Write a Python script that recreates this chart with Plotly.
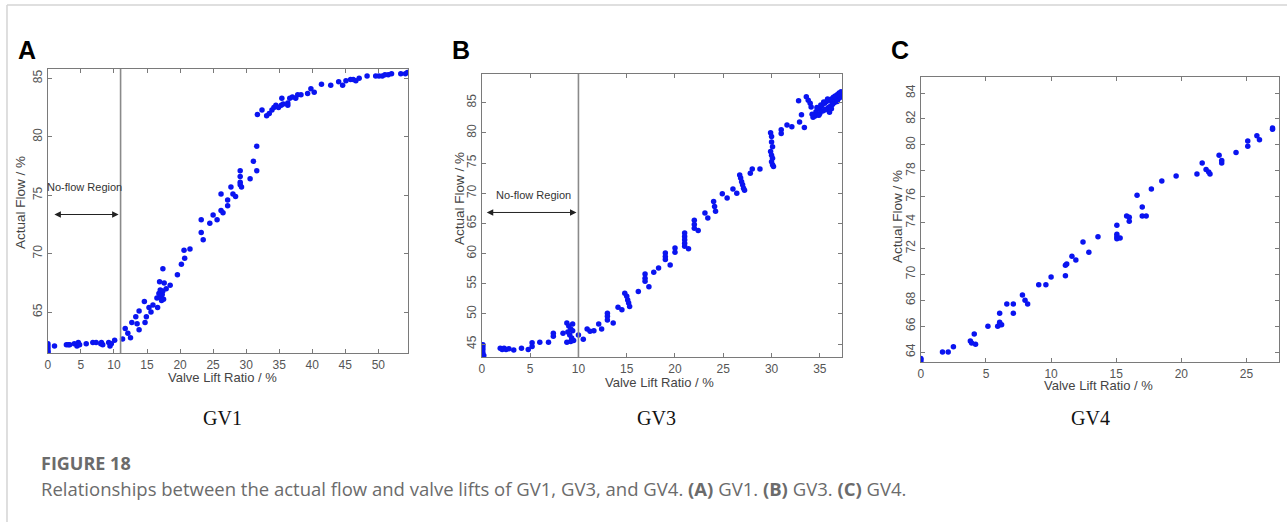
import plotly.graph_objects as go

W, H = 1287, 522

# ---------------- data ----------------
gv1_x = [0, 0, 0, 0, 0, 0, 1.0, 2.8, 3.1, 3.3, 4.0, 4.4, 4.6, 4.8, 5.8, 6.8, 7.3, 8.0, 8.3, 8.1,
         9.2, 9.4, 9.6, 10.1, 11.3, 11.7, 12.1, 12.5, 12.7, 13.3, 13.5, 13.8, 13.8, 14.6, 14.7,
         14.9, 15.3, 15.9, 15.6, 16.6, 16.5, 16.8, 17.0, 17.1, 17.2, 17.3, 17.4, 17.5, 16.9,
         17.4, 17.6, 17.9, 18.5, 19.6, 20.2, 20.6, 20.7, 21.5, 23.2, 23.2, 23.5, 24.5, 25.0,
         25.6, 26.2, 26.2, 26.5, 27.2, 27.2, 27.7, 28.0, 28.4, 29.1, 29.1, 29.1, 29.1, 29.3,
         30.6, 31.1, 31.6, 31.6, 31.7, 32.4, 33.1, 33.5, 33.9, 34.2, 34.5, 34.9, 35.3, 35.6,
         35.4, 36.3, 36.3, 36.6, 37.0, 37.5, 37.8, 38.3, 39.3, 39.8, 40.3, 41.4, 42.8, 44.0,
         44.6, 45.1, 45.8, 46.2, 46.6, 47.1, 48.3, 49.6, 50.1, 50.6, 51.0, 51.5, 52.0, 53.4,
         54.1, 54.4]
gv1_y = [61.5, 61.7, 61.9, 62.1, 62.3, 61.6, 62.1, 62.2, 62.2, 62.2, 62.3, 62.1, 62.4, 62.2, 62.3,
         62.4, 62.4, 62.3, 62.2, 62.4, 62.4, 62.1, 62.3, 62.6, 62.7, 63.6, 63.2, 62.8, 64.1, 64.6,
         64.0, 63.5, 65.1, 65.9, 64.1, 64.6, 65.4, 65.6, 65.0, 65.4, 66.2, 66.6, 66.9, 66.3, 66.0,
         66.5, 66.8, 66.1, 67.6, 68.7, 67.5, 67.0, 67.3, 68.2, 69.1, 70.3, 69.6, 70.4, 72.9, 71.8,
         71.2, 72.6, 73.3, 72.9, 75.1, 73.7, 73.5, 74.6, 74.1, 75.7, 75.1, 74.9, 77.1, 76.6, 76.1,
         75.9, 75.7, 76.4, 77.9, 79.2, 77.1, 81.9, 82.3, 81.8, 82.0, 82.3, 82.5, 82.7, 82.5, 82.7,
         82.8, 83.3, 82.9, 82.7, 83.3, 83.4, 83.3, 83.6, 83.6, 83.7, 84.1, 83.8, 84.5, 84.4, 84.7,
         84.4, 84.8, 84.9, 84.9, 84.8, 85.0, 85.2, 85.2, 85.2, 85.2, 85.3, 85.3, 85.4, 85.4, 85.4,
         85.5, 85.3]

gv3_x = [0.1, 0.1, 0.1, 0.1, 0.2, 1.9, 2.1, 2.3, 2.5, 2.8, 3.3, 4.1, 4.8, 5.2, 5.2, 6.0, 6.9,
         7.4, 7.4, 8.4, 8.8, 9.0, 9.2, 9.4, 8.9, 9.1, 9.3, 9.5, 8.8, 9.2, 9.4, 10.0, 10.5, 10.9,
         11.2, 11.6, 12.1, 12.4, 13.0, 13.0, 13.0, 13.6, 14.1, 14.5, 14.8, 15.0, 15.1, 15.2,
         15.3, 16.2, 16.9, 16.9, 16.9, 17.3, 17.8, 18.3, 19.0, 19.0, 19.0, 19.5, 20.0, 20.0,
         21.0, 21.0, 21.0, 21.0, 21.0, 21.4, 22.0, 22.0, 22.0, 22.4, 23.1, 23.4, 24.0, 24.1,
         24.2, 24.9, 25.4, 26.0, 26.4, 26.7, 26.8, 26.9, 27.0, 27.1, 27.2, 27.8, 28.0, 28.8,
         29.9, 30.0, 30.0, 30.1, 29.9, 30.0, 30.1, 30.0, 30.1, 30.2, 31.0, 31.0, 31.6, 32.1,
         32.8, 32.9, 33.1, 33.4, 33.6, 33.8, 34.0, 34.1, 34.3, 34.5, 34.6, 34.8, 35.0, 35.0,
         35.2, 35.3, 35.5, 35.6, 35.7, 35.9, 36.0, 36.1, 36.2, 36.3, 36.4, 36.5, 36.6, 36.7,
         36.8, 36.9, 37.0, 37.1, 37.2, 34.7, 35.1, 35.4, 35.8, 36.0, 36.3, 36.6, 36.9, 34.2,
         34.9, 35.5, 36.2, 36.8, 37.1]
gv3_y = [44.9, 44.5, 44.1, 43.6, 43.1, 44.3, 44.1, 44.3, 44.1, 44.2, 44.0, 44.3, 44.1, 45.2,
         44.6, 45.3, 45.3, 46.8, 46.3, 46.8, 48.5, 48.0, 47.5, 48.3, 47.0, 46.5, 46.0, 45.6,
         45.3, 45.4, 47.2, 46.5, 45.8, 47.5, 47.1, 47.2, 48.3, 47.5, 50.1, 49.6, 49.0, 48.5,
         51.1, 50.7, 53.4, 52.9, 52.3, 51.8, 51.2, 53.7, 56.6, 55.9, 55.4, 54.5, 56.9, 57.6,
         60.1, 59.5, 59.0, 58.1, 60.9, 60.2, 63.4, 62.8, 62.3, 61.7, 61.2, 60.8, 65.5, 64.8,
         64.2, 63.8, 66.7, 65.9, 68.6, 67.8, 67.0, 69.9, 69.2, 70.7, 70.0, 73.0, 72.5, 71.9,
         71.4, 70.8, 70.5, 73.3, 74.0, 74.0, 80.0, 79.4, 78.5, 77.7, 76.9, 76.3, 75.8, 75.2,
         74.7, 74.4, 80.5, 79.9, 81.3, 81.0, 85.3, 81.8, 83.0, 80.9, 86.0, 85.4, 84.9, 84.3,
         82.6, 82.8, 83.5, 83.0, 84.0, 83.2, 84.5, 83.6, 84.9, 83.9, 85.2, 84.2, 85.4, 84.4,
         85.6, 84.7, 85.9, 85.0, 86.1, 85.3, 86.3, 85.6, 86.6, 85.9, 86.8, 84.2, 84.6, 85.1,
         85.6, 83.4, 84.8, 86.0, 86.3, 83.1, 82.9, 83.8, 84.0, 85.2, 86.5]

gv4_x = [0.0, 0.0, 0.0, 1.66, 2.1, 2.5, 3.8, 3.9, 4.1, 4.2, 5.15, 5.9, 6.05, 6.05, 6.05, 6.2,
         6.6, 7.1, 7.1, 7.8, 8.0, 8.2, 9.05, 9.6, 10.0, 11.1, 11.1, 11.2, 11.6, 11.9, 12.45,
         12.9, 13.6, 15.05, 15.05, 15.05, 15.05, 15.3, 15.8, 16.0, 16.0, 16.6, 17.0, 17.0,
         17.3, 17.7, 18.5, 19.6, 21.2, 21.6, 21.9, 22.1, 22.2, 22.9, 23.1, 23.1, 24.2, 25.1,
         25.1, 25.8, 26.0, 27.0, 27.0]
gv4_y = [63.5, 63.4, 63.25, 64.0, 64.0, 64.4, 64.85, 64.7, 65.4, 64.6, 66.0, 66.0, 67.0, 66.3,
         66.1, 66.1, 67.7, 67.7, 67.0, 68.4, 68.0, 67.7, 69.2, 69.2, 69.8, 70.7, 69.9, 70.8,
         71.4, 71.1, 72.5, 71.7, 72.9, 73.8, 73.1, 72.9, 72.75, 72.8, 74.5, 74.4, 74.1, 76.1,
         75.2, 74.5, 74.5, 76.6, 77.2, 77.6, 77.75, 78.6, 78.1, 77.9, 77.75, 79.2, 78.8, 78.6,
         79.4, 80.3, 79.9, 80.7, 80.4, 81.3, 81.2]

panel_letters = ["A", "B", "C"]
panel_names = ["GV1", "GV3", "GV4"]
x_title = "Valve Lift Ratio / %"
y_title = "Actual Flow / %"
caption_head = "FIGURE 18"
caption_text = ("Relationships between the actual flow and valve lifts of GV1, GV3, and GV4. "
                "<b>(A)</b> GV1. <b>(B)</b> GV3. <b>(C)</b> GV4.")

# ---------------- layout helpers ----------------
def px_x(p):
    return p / W

def px_y(p):
    return 1 - p / H

# pixel boxes: (left, top, right, bottom)
boxes = [(45, 69, 406, 353), (480, 74, 841, 357), (920, 77, 1279, 362)]
xranges = [[0, 54.5], [0, 37.3], [0, 27.5]]
yranges = [[61.5, 85.8], [42.85, 89.75], [63.23, 85.24]]
xdticks = [5, 5, 5]
ydticks = [5, 5, 2]
datasets = [(gv1_x, gv1_y), (gv3_x, gv3_y), (gv4_x, gv4_y)]

# label positions in pixels
xtitle_pos = [(220, 377), (658, 382), (1098, 385)]
ytitle_pos = [(18, 202), (457, 198), (897, 216)]
name_x = [220, 655, 1090]

fig = go.Figure()
axcol = "#7a7a7a"
sans = "Liberation Sans, Arial, sans-serif"
tickfont = dict(family=sans, size=12, color="#555555")

layout = dict(
    width=W, height=H,
    margin=dict(l=0, r=0, t=0, b=0),
    paper_bgcolor="white", plot_bgcolor="white",
    showlegend=False,
)

annotations = []
shapes = []

for i, ((l, t, r, b), xr, yr, (xs, ys)) in enumerate(zip(boxes, xranges, yranges, datasets)):
    n = "" if i == 0 else str(i + 1)
    fig.add_trace(go.Scatter(
        x=xs, y=ys, mode="markers",
        marker=dict(color="#0a14f0", size=5.5, symbol="circle", line=dict(width=0)),
        xaxis="x" + n, yaxis="y" + n, hoverinfo="x+y",
    ))
    common = dict(showgrid=False, zeroline=False, showline=True, linecolor=axcol, linewidth=1.2,
                  mirror="ticks", ticks="inside", ticklen=4, tickcolor=axcol, tickwidth=1,
                  tickfont=tickfont)
    layout["xaxis" + n] = dict(domain=[px_x(l), px_x(r)], range=xr, anchor="y" + n,
                               dtick=xdticks[i], tick0=0, **common)
    layout["yaxis" + n] = dict(domain=[px_y(b), px_y(t)], range=yr, anchor="x" + n,
                               dtick=ydticks[i], tickangle=-90, **common)

    annotations.append(dict(text=x_title, xref="paper", yref="paper",
                            x=px_x(xtitle_pos[i][0]), y=px_y(xtitle_pos[i][1]),
                            showarrow=False, xanchor="center", yanchor="middle",
                            font=dict(family=sans, size=13, color="#444")))
    annotations.append(dict(text=y_title, xref="paper", yref="paper",
                            x=px_x(ytitle_pos[i][0]), y=px_y(ytitle_pos[i][1]), textangle=-90,
                            showarrow=False, xanchor="center", yanchor="middle",
                            font=dict(family=sans, size=13.5, color="#444")))
    annotations.append(dict(text="<b>%s</b>" % panel_letters[i], xref="paper", yref="paper",
                            x=px_x(l - 32), y=px_y(50), showarrow=False,
                            xanchor="left", yanchor="middle",
                            font=dict(family=sans, size=25, color="black")))
    annotations.append(dict(text=panel_names[i], xref="paper", yref="paper",
                            x=px_x(name_x[i]), y=px_y(418), showarrow=False,
                            xanchor="center", yanchor="middle",
                            font=dict(family="Liberation Serif, Times New Roman, serif", size=20, color="#111")))

# No-flow region markings (panels A and B)
noflow = [("x", "y", 11.0, 73.35, 0.75, 10.7, 5.6, 75.7),
          ("x2", "y2", 10.0, 66.8, 0.35, 9.8, 5.35, 69.7)]
for xa, ya, xv, ya_v, x0, x1, tx, ty in noflow:
    yr = yranges[0] if ya == "y" else yranges[1]
    shapes.append(dict(type="line", xref=xa, yref=ya, x0=xv, x1=xv, y0=yr[0], y1=yr[1],
                       line=dict(color="#8a8a8a", width=1.6)))
    annotations.append(dict(xref=xa, yref=ya, axref=xa, ayref=ya, x=x1, y=ya_v, ax=x0, ay=ya_v,
                            text="", showarrow=True, arrowhead=2, arrowside="end+start",
                            arrowsize=1.3, arrowwidth=1, arrowcolor="#222"))
    annotations.append(dict(xref=xa, yref=ya, x=tx, y=ty, text="No-flow Region", showarrow=False,
                            xanchor="center", yanchor="middle",
                            font=dict(family=sans, size=11, color="#333")))

# caption
annotations.append(dict(text="<b>" + caption_head + "</b>", xref="paper", yref="paper",
                        x=px_x(36), y=px_y(463), showarrow=False, xanchor="left", yanchor="middle",
                        font=dict(family="Open Sans, sans-serif", size=18, color="#6b6b6b")))
annotations.append(dict(text=caption_text, xref="paper", yref="paper",
                        x=px_x(36), y=px_y(488), showarrow=False, xanchor="left", yanchor="middle",
                        font=dict(family="Open Sans, sans-serif", size=18.5, color="#6b6b6b")))

# outer frame (top and left lines)
shapes.append(dict(type="line", xref="paper", yref="paper", x0=px_x(4), x1=1.0,
                   y0=px_y(5), y1=px_y(5), line=dict(color="#d4d4d4", width=1.5)))
shapes.append(dict(type="line", xref="paper", yref="paper", x0=px_x(4), x1=px_x(4),
                   y0=px_y(5), y1=0, line=dict(color="#d4d4d4", width=1.5)))

layout["annotations"] = annotations
layout["shapes"] = shapes
fig.update_layout(**layout)
fig.write_html("out.html")
